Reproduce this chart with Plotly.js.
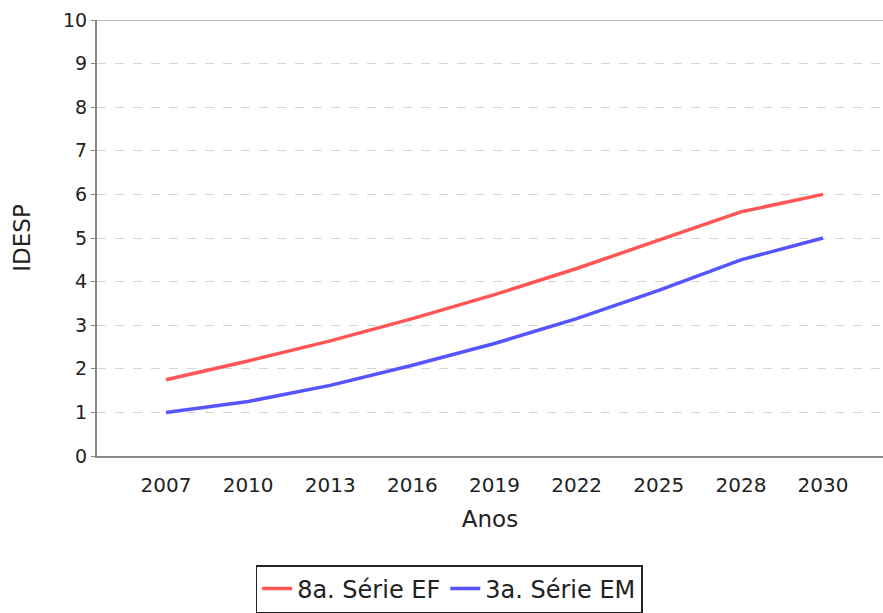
<!DOCTYPE html>
<html>
<head>
<meta charset="utf-8">
<script src="https://cdn.plot.ly/plotly-3.0.1.min.js"></script>
<style>html,body{margin:0;padding:0;background:#fff;}#chart{width:883px;height:613px;}</style>
</head>
<body>
<div id="chart"></div>
<script>
const anos = ["2007", "2010", "2013", "2016", "2019", "2022", "2025", "2028", "2030"];
const serieEF = [1.75, 2.18, 2.64, 3.15, 3.7, 4.3, 4.95, 5.6, 6.0];
const serieEM = [1.0, 1.25, 1.62, 2.08, 2.58, 3.15, 3.8, 4.5, 5.0];
const nomes = ["8a. Série EF", "3a. Série EM"];
const cores = ["#FF5555", "#5555FF"];

const font = "'DejaVu Sans', 'Liberation Sans', sans-serif";
const data = [
  {x: anos, y: serieEF, name: nomes[0], type: 'scatter', mode: 'lines', line: {color: cores[0], width: 3.5}},
  {x: anos, y: serieEM, name: nomes[1], type: 'scatter', mode: 'lines', line: {color: cores[1], width: 3.5}}
];
const layout = {
  width: 883, height: 613,
  margin: {l: 97, r: 0, t: 20, b: 157, autoexpand: false},
  paper_bgcolor: '#fff', plot_bgcolor: '#fff',
  font: {family: font, size: 16, color: '#222'},
  xaxis: {
    type: 'category', range: [-0.84, 8.73],
    showgrid: false, zeroline: false,
    showline: true, linecolor: '#888', linewidth: 2,
    ticks: '', ticklabelstandoff: 10,
    tickfont: {family: font, size: 20, color: '#222'},
    title: {text: 'Anos', font: {family: font, size: 23, color: '#222'}, standoff: 15}
  },
  yaxis: {
    range: [0, 10], dtick: 1, tick0: 0,
    showgrid: true, gridcolor: '#d4d4d4', griddash: 'dash', gridwidth: 1,
    zeroline: false,
    showline: true, linecolor: '#888', linewidth: 2,
    ticks: 'outside', ticklen: 4, tickcolor: '#888', tickwidth: 1,
    tickfont: {family: font, size: 19, color: '#222'},
    title: {text: 'IDESP', font: {family: font, size: 23, color: '#222'}, standoff: 26}
  },
  shapes: [{type: 'line', xref: 'paper', yref: 'y', x0: 0, x1: 1, y0: 10, y1: 10, line: {color: '#bbb', width: 2}}],
  showlegend: true,
  legend: {
    orientation: 'h', x: 0.448, xanchor: 'center', y: -0.25, yanchor: 'top',
    bordercolor: '#222', borderwidth: 1.5, bgcolor: '#fff',
    font: {family: font, size: 24, color: '#222'},
    itemwidth: 30, tracegroupgap: 0
  }
};
Plotly.newPlot('chart', data, layout, {displayModeBar: false, staticPlot: true});
</script>
</body>
</html>
